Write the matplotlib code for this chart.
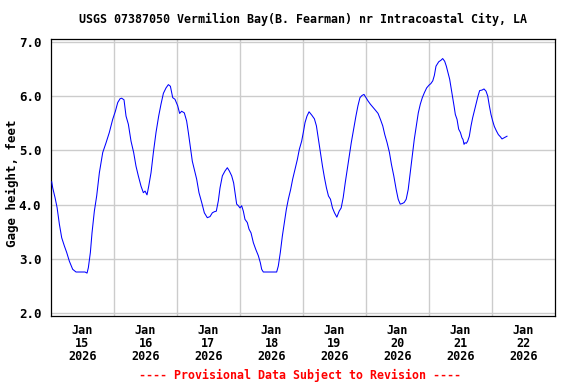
import matplotlib
matplotlib.use('Agg')
from matplotlib import pyplot as plt
from matplotlib.ticker import FixedLocator

# days since Jan 15 2026 00:00, gage height in feet
day = [0.011, 0.027, 0.064, 0.096, 0.133, 0.170, 0.212, 0.249, 0.291, 0.344,
       0.397, 0.540, 0.572, 0.593, 0.625, 0.651, 0.688, 0.725, 0.768, 0.821,
       0.874, 0.926, 0.979, 1.022, 1.059, 1.096, 1.122, 1.159, 1.191, 1.228,
       1.270, 1.312, 1.349, 1.386, 1.429, 1.466, 1.493, 1.524, 1.551, 1.588,
       1.625, 1.667, 1.709, 1.746, 1.784, 1.826, 1.863, 1.895, 1.932, 1.968,
       2.011, 2.042, 2.074, 2.116, 2.153, 2.180, 2.206, 2.243, 2.275, 2.312,
       2.349, 2.392, 2.434, 2.481, 2.524, 2.561, 2.593, 2.624, 2.656, 2.683,
       2.720, 2.762, 2.799, 2.831, 2.868, 2.899, 2.921, 2.947, 2.974, 3.000,
       3.026, 3.053, 3.079, 3.116, 3.143, 3.175, 3.212, 3.249, 3.291, 3.323,
       3.344, 3.370, 3.582, 3.608, 3.640, 3.672, 3.704, 3.735, 3.767, 3.804,
       3.836, 3.873, 3.910, 3.942, 3.979, 4.005, 4.032, 4.063, 4.096, 4.138,
       4.181, 4.213, 4.245, 4.277, 4.309, 4.340, 4.372, 4.404, 4.436, 4.468,
       4.500, 4.537, 4.574, 4.606, 4.638, 4.670, 4.702, 4.734, 4.766, 4.803,
       4.840, 4.872, 4.904, 4.936, 4.968, 5.000, 5.032, 5.069, 5.106, 5.149,
       5.191, 5.229, 5.266, 5.298, 5.335, 5.372, 5.404, 5.441, 5.479, 5.511,
       5.543, 5.574, 5.606, 5.638, 5.670, 5.702, 5.734, 5.766, 5.798, 5.830,
       5.862, 5.894, 5.926, 5.963, 6.000, 6.030, 6.060, 6.085, 6.111, 6.154,
       6.191, 6.217, 6.249, 6.275, 6.302, 6.328, 6.355, 6.376, 6.397, 6.418,
       6.445, 6.471, 6.498, 6.524, 6.540, 6.556, 6.572, 6.593, 6.614, 6.640,
       6.667, 6.693, 6.725, 6.752, 6.778, 6.804, 6.842, 6.873, 6.905, 6.932,
       6.958, 6.984, 7.011, 7.037, 7.069, 7.101, 7.133, 7.159, 7.191, 7.222,
       7.238]
gage = [4.42, 4.31, 4.13, 3.95, 3.64, 3.39, 3.24, 3.12, 2.96, 2.81,
        2.76, 2.76, 2.74, 2.84, 3.12, 3.48, 3.88, 4.16, 4.59, 4.96,
        5.14, 5.33, 5.57, 5.72, 5.88, 5.95, 5.96, 5.93, 5.63, 5.48,
        5.17, 4.96, 4.71, 4.53, 4.34, 4.22, 4.25, 4.18, 4.34, 4.59,
        4.96, 5.33, 5.63, 5.85, 6.05, 6.15, 6.21, 6.18, 5.97, 5.94,
        5.82, 5.68, 5.72, 5.69, 5.54, 5.33, 5.11, 4.80, 4.65, 4.47,
        4.22, 4.04, 3.85, 3.76, 3.78, 3.85, 3.87, 3.88, 4.07, 4.31,
        4.53, 4.62, 4.68, 4.62, 4.53, 4.40, 4.22, 4.01, 3.98, 3.94,
        3.98, 3.88, 3.73, 3.67, 3.55, 3.48, 3.30, 3.18, 3.06, 2.93,
        2.81, 2.76, 2.76, 2.87, 3.12, 3.42, 3.67, 3.91, 4.10, 4.28,
        4.47, 4.65, 4.83, 5.02, 5.17, 5.33, 5.51, 5.63, 5.71, 5.65,
        5.58, 5.45, 5.20, 4.96, 4.71, 4.50, 4.31, 4.16, 4.10, 3.94,
        3.85, 3.77, 3.88, 3.94, 4.13, 4.40, 4.65, 4.90, 5.14, 5.39,
        5.63, 5.82, 5.97, 6.01, 6.03, 5.97, 5.91, 5.85, 5.80, 5.74,
        5.68, 5.57, 5.45, 5.29, 5.14, 4.96, 4.74, 4.53, 4.28, 4.10,
        4.01, 4.02, 4.04, 4.10, 4.28, 4.59, 4.90, 5.20, 5.45, 5.69,
        5.85, 5.97, 6.06, 6.15, 6.20, 6.23, 6.28, 6.38, 6.55, 6.63,
        6.66, 6.69, 6.64, 6.55, 6.43, 6.31, 6.12, 5.97, 5.82, 5.66,
        5.57, 5.39, 5.33, 5.23, 5.20, 5.11, 5.14, 5.13, 5.17, 5.26,
        5.45, 5.60, 5.75, 5.88, 6.00, 6.10, 6.11, 6.13, 6.09, 6.00,
        5.82, 5.66, 5.54, 5.44, 5.36, 5.29, 5.25, 5.21, 5.23, 5.25,
        5.26]

day_labels = ['Jan\n15\n2026', 'Jan\n16\n2026', 'Jan\n17\n2026', 'Jan\n18\n2026',
              'Jan\n19\n2026', 'Jan\n20\n2026', 'Jan\n21\n2026', 'Jan\n22\n2026']
y_ticks = [2.0, 3.0, 4.0, 5.0, 6.0, 7.0]

title = 'USGS 07387050 Vermilion Bay(B. Fearman) nr Intracoastal City, LA'
font = 'DejaVu Sans Mono'

fig = plt.figure(figsize=(5.76, 3.84), dpi=100)
ax = fig.add_axes([51/576, 1 - 316/384, 504/576, 277/384])

ax.plot(day, gage, color='#0000ff', lw=0.75, zorder=3)

ax.set_xlim(0, 8)
ax.set_ylim(1.95, 7.05)

ax.xaxis.set_major_locator(FixedLocator([i + 0.5 for i in range(8)]))
ax.xaxis.set_minor_locator(FixedLocator(list(range(1, 8))))
ax.set_xticklabels(day_labels, fontfamily=font, fontweight='bold', fontsize=8.5,
                   linespacing=1.0)
ax.set_yticks(y_ticks)
ax.set_yticklabels(['%.1f' % v for v in y_ticks], fontfamily=font,
                   fontweight='bold', fontsize=9)
ax.tick_params(axis='both', which='both', length=0)
ax.tick_params(axis='x', pad=6)
ax.tick_params(axis='y', pad=7)

ax.grid(True, axis='x', which='minor', color='#cccccc', lw=1.0)
ax.grid(True, axis='y', which='major', color='#cccccc', lw=1.0)
ax.grid(False, axis='x', which='major')
for s in ax.spines.values():
    s.set_linewidth(0.9)
    s.set_color('black')

fig.text(12/576, 1 - 183/384, 'Gage height, feet', rotation=90,
         ha='center', va='center', fontfamily=font, fontweight='bold',
         fontsize=9)
fig.text(303/576, 1 - 19/384, title, ha='center', va='center',
         fontfamily=font, fontweight='bold', fontsize=8.4)
fig.text(300/576, 1 - 375/384, '---- Provisional Data Subject to Revision ----',
         ha='center', va='center', color='red', fontfamily=font,
         fontweight='bold', fontsize=8.4)

fig.savefig('out.png', dpi=100, facecolor='white')
